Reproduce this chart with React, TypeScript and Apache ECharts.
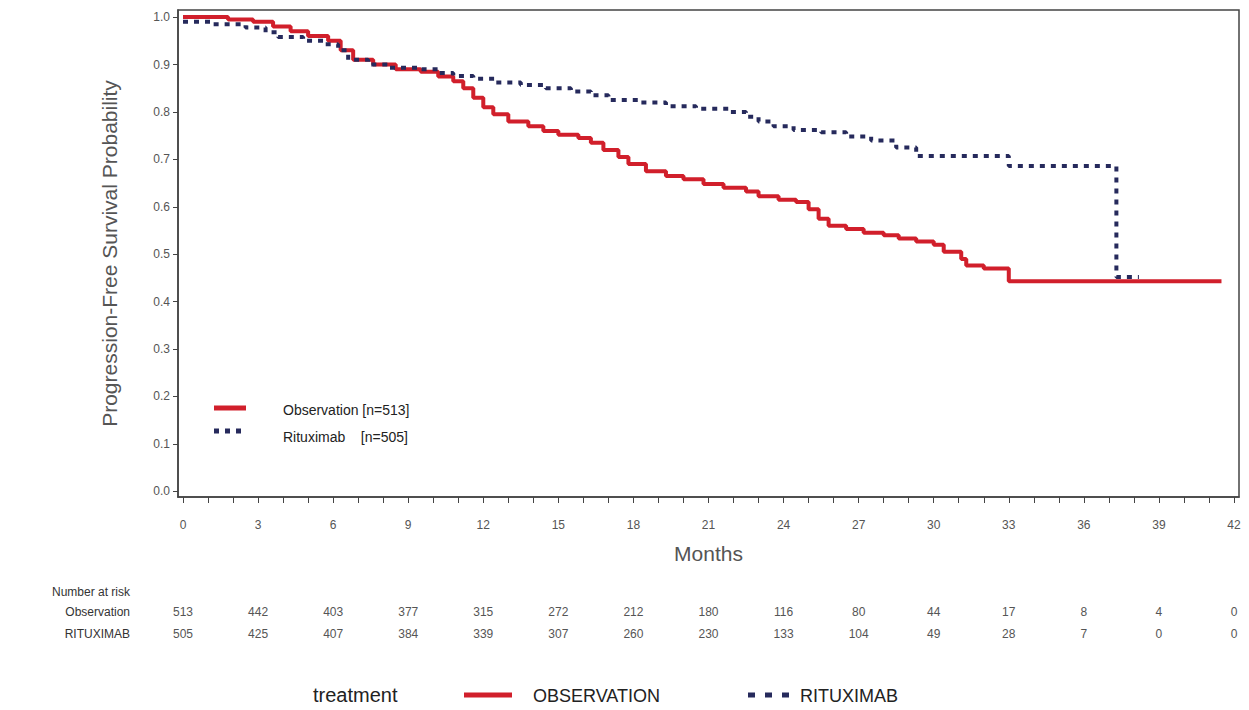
import React, { useEffect, useRef } from "react";
import * as echarts from "echarts";

const obsSteps: [number, number][] = [
  [0, 1.0], [1.8, 0.995], [2.8, 0.99], [3.6, 0.98], [4.3, 0.97], [5.0, 0.96], [5.8, 0.95], [6.3, 0.93], [6.8, 0.91],
  [7.6, 0.9], [8.5, 0.89], [9.5, 0.885], [10.2, 0.875], [10.8, 0.865], [11.2, 0.85], [11.6, 0.83],
  [12.0, 0.81], [12.4, 0.795], [13.0, 0.78], [13.8, 0.77], [14.4, 0.76], [15.0, 0.752], [15.8, 0.745],
  [16.3, 0.735], [16.8, 0.72], [17.4, 0.705], [17.8, 0.69], [18.5, 0.675], [19.3, 0.665], [20.0, 0.658],
  [20.8, 0.648], [21.6, 0.64], [22.5, 0.632], [23.0, 0.622], [23.8, 0.615], [24.5, 0.61], [25.0, 0.595],
  [25.4, 0.575], [25.8, 0.56], [26.5, 0.553], [27.2, 0.545], [28.0, 0.54], [28.6, 0.533], [29.3, 0.527],
  [30.0, 0.52], [30.4, 0.505], [31.1, 0.49], [31.3, 0.476], [32.0, 0.47], [33.0, 0.443], [41.5, 0.443],
];
const ritSteps: [number, number][] = [
  [0, 0.99], [1.2, 0.985], [2.5, 0.978], [3.3, 0.968], [3.8, 0.958], [4.8, 0.95], [5.6, 0.943], [6.2, 0.93],
  [6.6, 0.91], [7.4, 0.9], [8.2, 0.893], [9.5, 0.89], [10.2, 0.882], [10.8, 0.876], [11.6, 0.87],
  [12.5, 0.862], [13.5, 0.857], [14.5, 0.85], [15.5, 0.843], [16.3, 0.835], [17.0, 0.825], [18.3, 0.82],
  [19.3, 0.812], [20.5, 0.807], [21.8, 0.8], [22.5, 0.79], [23.0, 0.78], [23.6, 0.77], [24.4, 0.762],
  [25.5, 0.757], [26.5, 0.748], [27.5, 0.74], [28.5, 0.725], [29.3, 0.707], [31.0, 0.707], [33.0, 0.686],
  [37.3, 0.686], [37.3, 0.452], [38.2, 0.452],
];
const xTicks = Array.from({ length: 43 }, (_, i) => i);
const xLabels = [0, 3, 6, 9, 12, 15, 18, 21, 24, 27, 30, 33, 36, 39, 42];
const yLabels = [0, 0.1, 0.2, 0.3, 0.4, 0.5, 0.6, 0.7, 0.8, 0.9, 1.0];
const riskObs = [513, 442, 403, 377, 315, 272, 212, 180, 116, 80, 44, 17, 8, 4, 0];
const riskRit = [505, 425, 407, 384, 339, 307, 260, 230, 133, 104, 49, 28, 7, 0, 0];

const RED = "#d11f2b";
const NAVY = "#262a5c";
const GRAY = "#555";
const FONT = "Liberation Sans, Arial, sans-serif";

export default function App() {
  const ref = useRef<HTMLDivElement>(null);
  useEffect(() => {
    const chart = echarts.init(ref.current!, null, { renderer: "svg" });
    chart.setOption({
      animation: false,
      textStyle: { fontFamily: FONT },
      grid: { left: 178, right: 10, top: 10, bottom: 213, show: true, borderColor: "#444", borderWidth: 1.5 },
      xAxis: {
        type: "value", min: -0.2, max: 42.2,
        axisLine: { show: true, onZero: false, lineStyle: { color: "#444", width: 1.5 } },
        axisTick: { show: true, length: 6, customValues: xTicks, lineStyle: { color: "#444" } },
        axisLabel: { customValues: xLabels, color: GRAY, fontSize: 12, margin: 22, fontFamily: FONT },
        splitLine: { show: false },
        name: "Months", nameLocation: "middle", nameGap: 46,
        nameTextStyle: { fontSize: 21, color: GRAY, fontFamily: FONT },
      },
      yAxis: {
        type: "value", min: -0.012, max: 1.015,
        axisLine: { show: true, onZero: false, lineStyle: { color: "#444", width: 1.5 } },
        axisTick: { show: true, length: 5, customValues: yLabels, lineStyle: { color: "#444" } },
        axisLabel: { customValues: yLabels, color: GRAY, fontSize: 12, margin: 8, fontFamily: FONT,
          formatter: (v: number) => v.toFixed(1) },
        splitLine: { show: false },
        name: "Progression-Free Survival Probability", nameLocation: "middle", nameGap: 58,
        nameTextStyle: { fontSize: 21, color: GRAY, fontFamily: FONT },
      },
      series: [
        { type: "line", step: "end", data: obsSteps, symbol: "none", lineStyle: { color: RED, width: 4 }, z: 2 },
        { type: "line", step: "end", data: ritSteps, symbol: "none", lineStyle: { color: NAVY, width: 4, type: [5, 6] }, z: 3 },
      ],
    });
    const g: any[] = [];
    const t = (text: string, x: number, y: number, size: number, align = "left", color = GRAY) =>
      g.push({ type: "text", x, y, style: { text, fontSize: size, fill: color, fontFamily: FONT, align, verticalAlign: "middle" } });
    xLabels.forEach((m, i) => {
      const px = chart.convertToPixel({ xAxisIndex: 0 }, m) as number;
      t(String(riskObs[i]), px, 612, 12, "center");
      t(String(riskRit[i]), px, 634, 12, "center");
    });
    t("Number at risk", 130, 592, 12, "right", "#333");
    t("Observation", 130, 612, 12, "right", "#333");
    t("RITUXIMAB", 130, 634, 12, "right", "#333");
    g.push({ type: "line", shape: { x1: 214, y1: 408, x2: 246, y2: 408 }, style: { stroke: RED, lineWidth: 5 } });
    g.push({ type: "line", shape: { x1: 214, y1: 431, x2: 246, y2: 431 }, style: { stroke: NAVY, lineWidth: 5, lineDash: [5, 6] } });
    t("Observation [n=513]", 283, 410, 14, "left", "#222");
    t("Rituximab    [n=505]", 283, 437, 14, "left", "#222");
    t("treatment", 313, 695, 20, "left", "#222");
    g.push({ type: "line", shape: { x1: 464, y1: 695, x2: 512, y2: 695 }, style: { stroke: RED, lineWidth: 5 } });
    t("OBSERVATION", 533, 696, 18, "left", "#222");
    g.push({ type: "line", shape: { x1: 748, y1: 695, x2: 792, y2: 695 }, style: { stroke: NAVY, lineWidth: 5, lineDash: [7, 10] } });
    t("RITUXIMAB", 800, 696, 18, "left", "#222");
    chart.setOption({ graphic: g });
    return () => chart.dispose();
  }, []);
  return <div ref={ref} style={{ width: 1249, height: 710, position: "absolute", left: 0, top: 0, background: "#fff" }} />;
}
